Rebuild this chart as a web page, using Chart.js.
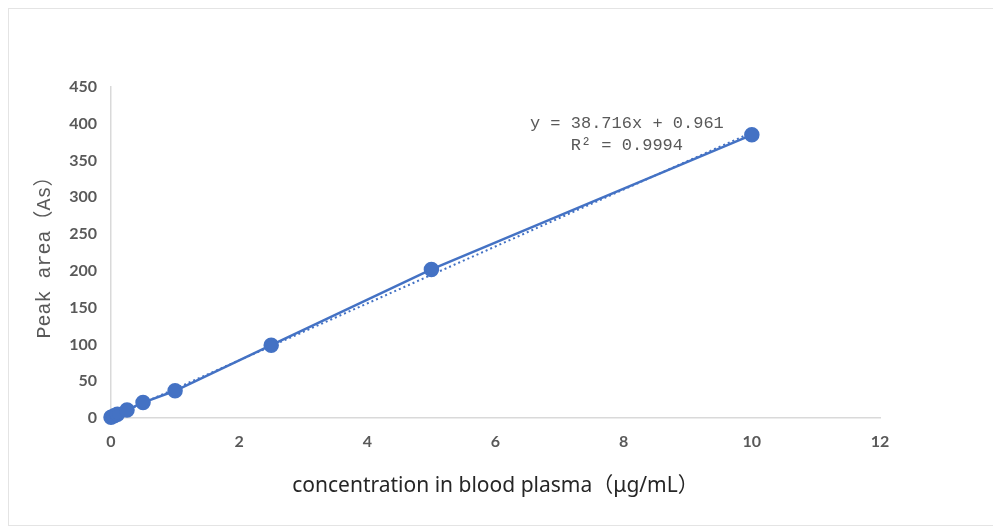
<!DOCTYPE html>
<html>
<head>
<meta charset="utf-8">
<script src="https://cdn.jsdelivr.net/npm/chart.js@4.4.0/dist/chart.umd.min.js"></script>
<style>
  html, body { margin: 0; padding: 0; background: #fff; }
  #wrap { width: 993px; height: 528px; position: relative; }
</style>
</head>
<body>
<div id="wrap"><canvas id="chart" width="993" height="528"></canvas></div>
<script>
// DATA
const concentration = [0, 0.05, 0.1, 0.25, 0.5, 1, 2.5, 5, 10];
const peakArea = [1, 3, 5, 11, 21, 37, 99, 202, 385];
// linear trendline (y = 38.716x + 0.961) at its two ends
const trendX = [0, 10];
const trendY = [0.961, 388.12];
const eqLines = ['y = 38.716x + 0.961', 'R² = 0.9994'];

const blue = '#4472C4';
const grey = '#595959';

// faint frame + trendline label
const extras = {
  id: 'extras',
  beforeDraw(chart) {
    const c = chart.ctx;
    c.save();
    c.strokeStyle = '#e4e4e4';
    c.lineWidth = 1;
    c.strokeRect(8.5, 8.5, 1000, 517);
    c.restore();
  },
  afterDatasetsDraw(chart) {
    const c = chart.ctx;
    const xs = chart.scales.x, ys = chart.scales.y;
    c.save();
    c.fillStyle = grey;
    c.font = '17px "Liberation Mono", monospace';
    c.textAlign = 'center';
    c.textBaseline = 'middle';
    const cx = xs.getPixelForValue(8.05);
    c.fillText(eqLines[0], cx, ys.getPixelForValue(401));
    c.fillText(eqLines[1], cx, ys.getPixelForValue(371));
    c.restore();
  }
};

const tickFont = { family: 'Lato', size: 16, weight: 'bold' };

new Chart(document.getElementById('chart'), {
  type: 'scatter',
  data: {
    datasets: [
      {
        label: 'Peak area',
        data: concentration.map((x, i) => ({ x: x, y: peakArea[i] })),
        showLine: true,
        borderColor: blue,
        backgroundColor: blue,
        borderWidth: 2.5,
        pointRadius: 6.5,
        pointHoverRadius: 6.5,
        clip: false
      },
      {
        label: 'Linear',
        data: trendX.map((x, i) => ({ x: x, y: trendY[i] })),
        showLine: true,
        borderColor: blue,
        borderWidth: 2,
        borderDash: [2, 3],
        pointRadius: 0,
        clip: false
      }
    ]
  },
  options: {
    responsive: false,
    animation: false,
    layout: { padding: { top: 87, right: 113, left: 0, bottom: 0 } },
    plugins: { legend: { display: false }, tooltip: { enabled: false } },
    scales: {
      x: {
        type: 'linear',
        min: 0, max: 12,
        afterFit: s => { s.height = 110; },
        grid: { display: false, drawTicks: false },
        border: { display: true, color: '#d9d9d9', width: 1.5 },
        ticks: { stepSize: 2, color: grey, padding: 14, font: tickFont },
        title: {
          display: true,
          text: 'concentration in blood plasma（μg/mL）',
          color: '#262626',
          font: { family: '"Noto Sans", "Noto Sans CJK SC"', size: 21 },
          padding: { top: 0, bottom: 29 }
        }
      },
      y: {
        min: 0, max: 450,
        afterFit: s => { s.width = 111; },
        grid: { display: false, drawTicks: false },
        border: { display: true, color: '#d9d9d9', width: 1.5 },
        ticks: { stepSize: 50, color: grey, padding: 14, font: tickFont },
        title: {
          display: true,
          text: 'Peak area（As）',
          color: grey,
          font: { family: '"Liberation Mono", "Noto Sans CJK SC"', size: 20 },
          padding: { top: 33, bottom: 0 }
        }
      }
    }
  },
  plugins: [extras]
});
</script>
</body>
</html>
